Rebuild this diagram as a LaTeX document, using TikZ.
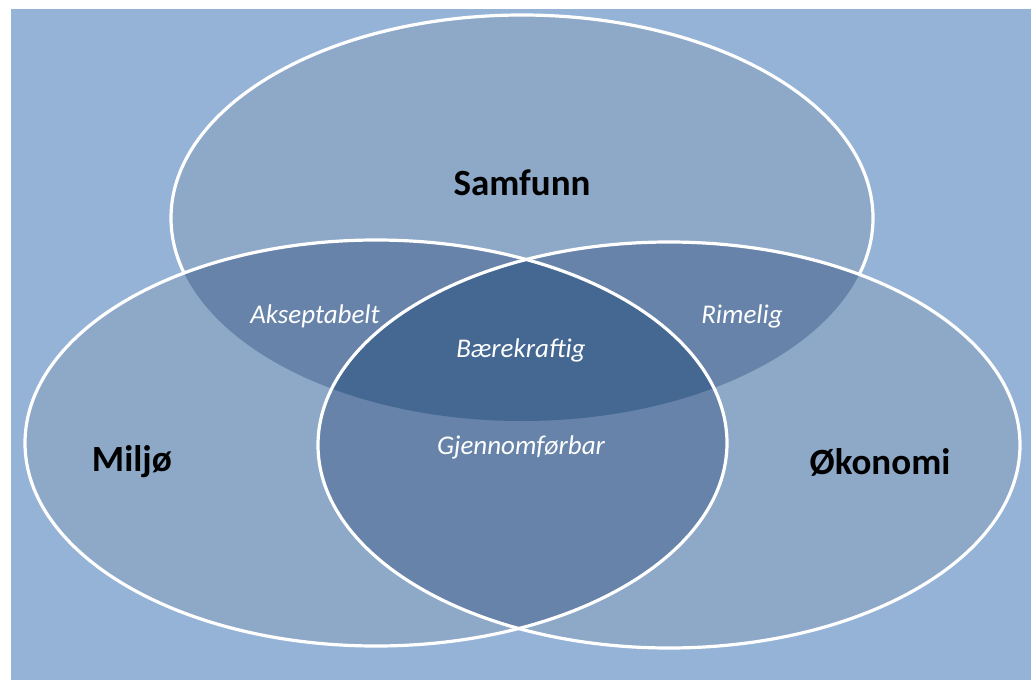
\documentclass[tikz,border=0pt]{standalone}
\usepackage{fontspec}
\setmainfont{Carlito}
\definecolor{bgblue}{RGB}{149,179,215}
\definecolor{oneset}{RGB}{142,169,200}
\definecolor{twoset}{RGB}{103,131,169}
\definecolor{threeset}{RGB}{68,104,146}
\begin{document}
\begin{tikzpicture}[x=1pt,y=-1pt,
  setT/.style={insert path={(522,218) ellipse [x radius=351, y radius=203]}},
  setL/.style={insert path={(376,443) ellipse [x radius=351, y radius=203]}},
  setR/.style={insert path={(669,445) ellipse [x radius=351, y radius=203]}},
  rim/.style={draw=white, line width=3.2pt},
  title/.style={font=\bfseries\fontsize{37}{40}\selectfont, text=black, inner sep=0pt},
  zone/.style={font=\itshape\fontsize{27}{30}\selectfont, text=white, inner sep=0pt}]
\useasboundingbox (0,0) rectangle (1031,680);
\fill[white] (0,0) rectangle (1031,680);
\fill[bgblue] (11,9) rectangle (1031,680);
% the society circle with its own outline, later partly covered
\fill[oneset, setT];
\draw[rim, setT];
\fill[oneset, setL];
\fill[oneset, setR];
% pairwise overlaps
\begin{scope}
  \clip[setT];
  \fill[twoset, setL];
  \fill[twoset, setR];
\end{scope}
\begin{scope}
  \clip[setL];
  \fill[twoset, setR];
  \clip[setR];
  \fill[threeset, setT];
\end{scope}
% outlines of the two lower circles
\draw[rim, setL];
\draw[rim, setR];
% labels
\node[title] (samfunn) at (522,183) {Samfunn};
\node[title] (miljo) at (132,462) {Miljø};
\node[title] (okonomi) at (880,462) {Økonomi};
\node[zone] (akseptabelt) at (315,316) {Akseptabelt};
\node[zone] (rimelig) at (742,316) {Rimelig};
\node[zone] (baerekraftig) at (521,350) {Bærekraftig};
\node[zone] (gjennomforbar) at (521,447) {Gjennomførbar};
\end{tikzpicture}
\end{document}
